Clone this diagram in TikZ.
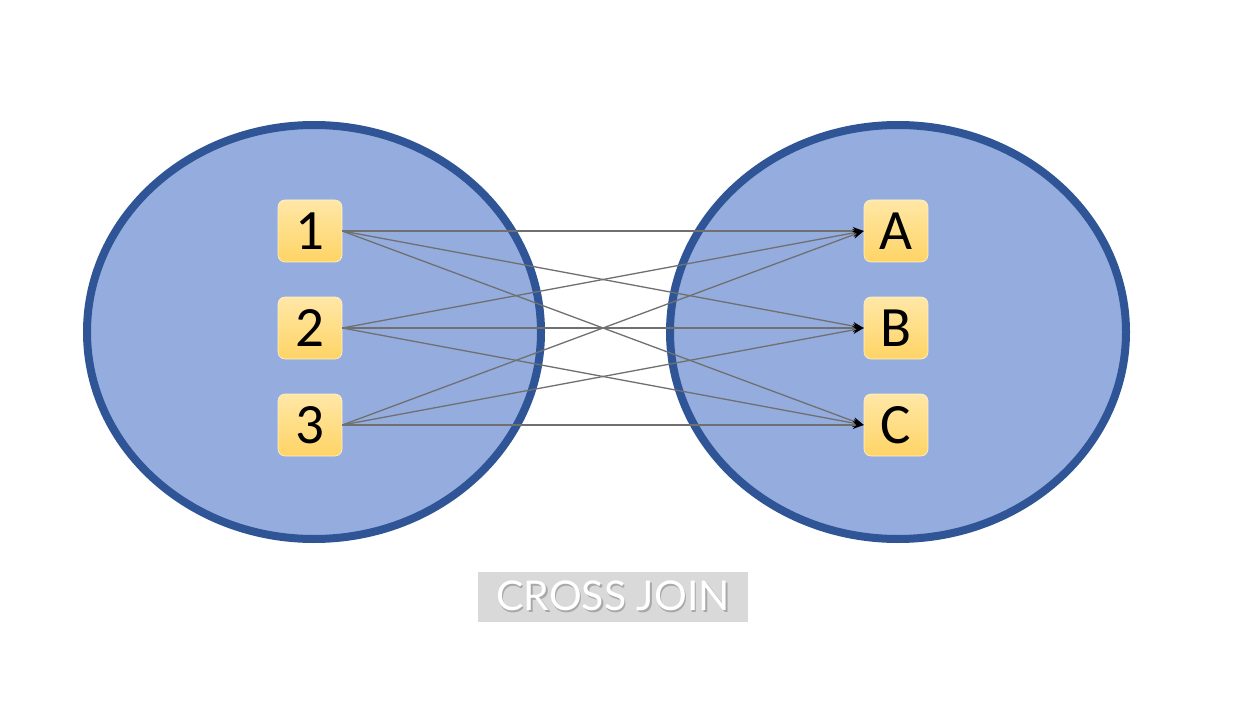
\documentclass[tikz,border=0pt]{standalone}
\usepackage{fontspec}
\setmainfont{Carlito}
\newfontfamily\latofont{Lato}
\usetikzlibrary{arrows.meta,shadings}
\definecolor{ringblue}{HTML}{2F5597}
\definecolor{fillblue}{HTML}{94ADDE}
\definecolor{boxtop}{HTML}{FFE7A6}
\definecolor{boxbot}{HTML}{FFD466}
\definecolor{linkgray}{HTML}{707070}
\definecolor{labelbg}{HTML}{D9D9D9}
\definecolor{shadowgray}{HTML}{A8A8A8}
\tikzset{
  setring/.style={draw=ringblue, fill=fillblue, line width=8pt},
  item/.style={rounded corners=7pt, top color=boxtop, bottom color=boxbot,
    draw=boxtop!60!white, line width=0.6pt,
    minimum width=64pt, minimum height=62pt, inner sep=0pt,
    font=\fontsize{57}{57}\selectfont, text=black},
  link/.style={draw=linkgray, line width=1.3pt,
    -{Stealth[black,length=11pt,width=8pt]}},
  labeltext/.style={font=\latofont\fontsize{41}{41}\selectfont, inner sep=0pt}
}
\newcommand\shadowedlabel[1]{\makebox[0pt][l]{\hspace{1.5pt}\raisebox{-2.5pt}{\textcolor{shadowgray}{#1}}}\textcolor{white}{#1}}
\begin{document}
\begin{tikzpicture}[x=1pt,y=-1pt]
\useasboundingbox (0,0) rectangle (1239,711);
\fill[white] (0,0) rectangle (1239,711);
\path[setring] (314,332) ellipse [x radius=227, y radius=207];
\path[setring] (898,332) ellipse [x radius=228, y radius=207];
\node[item] (n1) at (310,231) {1};
\node[item] (n2) at (310,328) {2};
\node[item] (n3) at (310,425) {3};
\node[item] (nA) at (896,231) {A};
\node[item] (nB) at (896,328) {B};
\node[item] (nC) at (896,425) {C};
\foreach \s in {n1,n2,n3}{
  \foreach \t in {nA,nB,nC}{
    \draw[link] (\s.east) -- (\t.west);
  }
}
\node[fill=labelbg, minimum width=270pt, minimum height=50pt, inner sep=0pt] (lab) at (613,597) {};
\node[labeltext] (labtext) at (lab.center) {\shadowedlabel{CROSS JOIN}};
\end{tikzpicture}
\end{document}
